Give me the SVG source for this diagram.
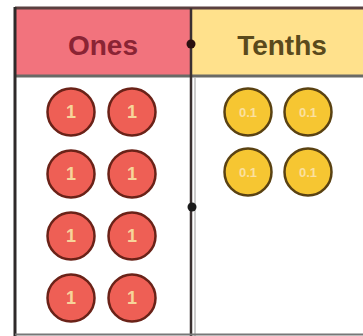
<svg xmlns="http://www.w3.org/2000/svg" width="363" height="336" viewBox="0 0 363 336">
<style>
.hdr{font-family:"Liberation Sans",Arial,sans-serif;font-size:28px;font-weight:bold;text-anchor:middle}
.one{fill:#EE5F55;stroke:#6A2218;stroke-width:2.5}
.ten{fill:#F6C632;stroke:#5A4212;stroke-width:2.5}
.lbl{font-family:"Liberation Sans",Arial,sans-serif;font-weight:bold;text-anchor:middle}
.lo{fill:#F7D49A;font-size:18px}
.lt{fill:#FBE0A0;font-size:13px}
</style>
<rect width="363" height="336" fill="#ffffff"/>
<g id="header-ones">
<rect x="15" y="8" width="176" height="68" fill="#F2737D"/>
<text class="hdr" x="103" y="55" fill="#8A2434">Ones</text>
</g>
<g id="header-tenths">
<rect x="191" y="8" width="172" height="68" fill="#FFE18C"/>
<text class="hdr" x="282" y="55" fill="#5A4A1C">Tenths</text>
</g>
<g id="grid">
<line x1="15" y1="8" x2="363" y2="8" stroke="#5A4040" stroke-width="3"/>
<line x1="15" y1="76" x2="363" y2="76" stroke="#6A6A66" stroke-width="3"/>
<line x1="15" y1="7" x2="15" y2="336" stroke="#2E2A2A" stroke-width="3"/>
<line x1="191" y1="8" x2="191" y2="336" stroke="#3A3030" stroke-width="2.5"/>
<line x1="195" y1="78" x2="195" y2="336" stroke="#BBBBBB" stroke-width="1.5"/>
<line x1="15" y1="334.5" x2="363" y2="334.5" stroke="#777777" stroke-width="2"/>
<circle cx="191" cy="44" r="4.5" fill="#2A1010"/>
<circle cx="192" cy="207" r="4.5" fill="#1A1A1A"/>
</g>
<g id="ones-coins">
<circle class="one" cx="71" cy="112" r="23.5"/><text class="lbl lo" x="71" y="118">1</text>
<circle class="one" cx="132" cy="112" r="23.5"/><text class="lbl lo" x="132" y="118">1</text>
<circle class="one" cx="71" cy="174" r="23.5"/><text class="lbl lo" x="71" y="180">1</text>
<circle class="one" cx="132" cy="174" r="23.5"/><text class="lbl lo" x="132" y="180">1</text>
<circle class="one" cx="71" cy="236" r="23.5"/><text class="lbl lo" x="71" y="242">1</text>
<circle class="one" cx="132" cy="236" r="23.5"/><text class="lbl lo" x="132" y="242">1</text>
<circle class="one" cx="71" cy="298" r="23.5"/><text class="lbl lo" x="71" y="304">1</text>
<circle class="one" cx="132" cy="298" r="23.5"/><text class="lbl lo" x="132" y="304">1</text>
</g>
<g id="tenths-coins">
<circle class="ten" cx="248" cy="112" r="23.5"/><text class="lbl lt" x="248" y="117">0.1</text>
<circle class="ten" cx="308" cy="112" r="23.5"/><text class="lbl lt" x="308" y="117">0.1</text>
<circle class="ten" cx="248" cy="172" r="23.5"/><text class="lbl lt" x="248" y="177">0.1</text>
<circle class="ten" cx="308" cy="172" r="23.5"/><text class="lbl lt" x="308" y="177">0.1</text>
</g>
</svg>
